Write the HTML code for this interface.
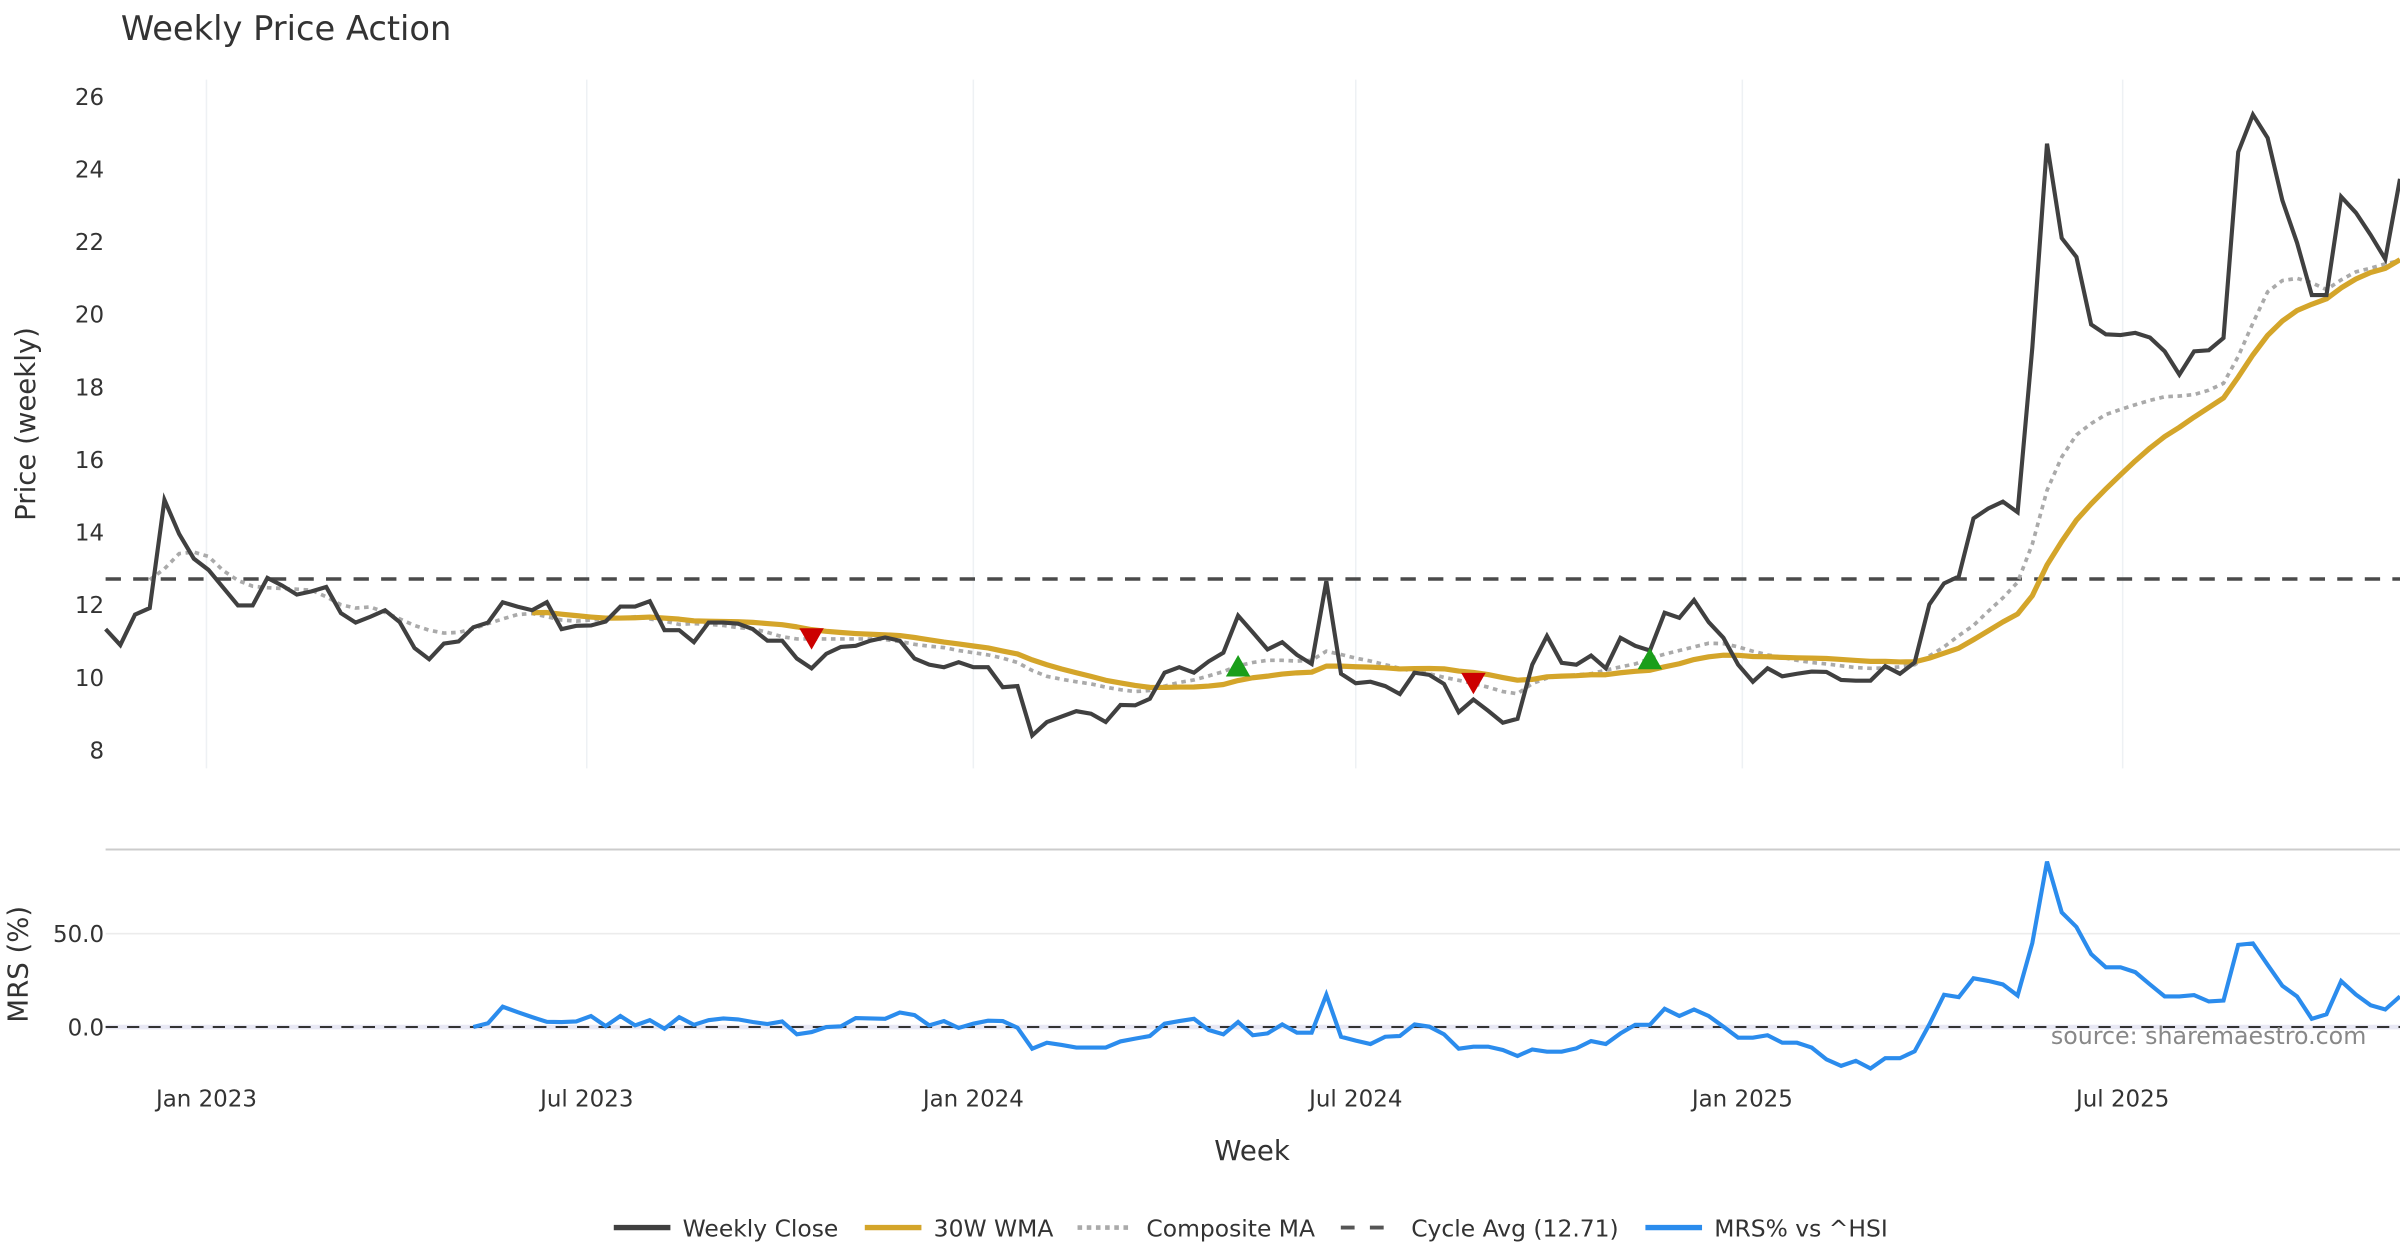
<!DOCTYPE html>
<html><head><meta charset="utf-8"><title>Weekly Price Action</title>
<style>
html,body{margin:0;padding:0;background:#fff;}
svg{display:block;font-family:"DejaVu Sans","Liberation Sans",sans-serif;}
</style></head>
<body>
<svg id="chart" width="2400" height="1260" viewBox="0 0 1568 823.2" xmlns="http://www.w3.org/2000/svg">
<rect width="1568" height="823.2" fill="#fff"/>
<text x="79" y="26" font-size="22" fill="#333">Weekly Price Action</text>
<g id="grid"></g>
<g id="series"></g>
<g id="axes"></g>
<text transform="translate(23,277) rotate(-90)" text-anchor="middle" font-size="18" fill="#333">Price (weekly)</text>
<text transform="translate(18,630) rotate(-90)" text-anchor="middle" font-size="18" fill="#333">MRS (%)</text>
<text x="818" y="758" text-anchor="middle" font-size="18" fill="#333">Week</text>
<text x="1546" y="682" text-anchor="end" font-size="15.5" fill="#888">source: sharemaestro.com</text>
<g font-size="15.3" fill="#333">
  <g><line x1="401" y1="802" x2="438" y2="802" stroke="#404040" stroke-width="3.5"/><text x="446" y="808">Weekly Close</text></g>
  <g><line x1="565" y1="802" x2="602" y2="802" stroke="#d4a52a" stroke-width="3.5"/><text x="610" y="808">30W WMA</text></g>
  <g><line x1="704" y1="802" x2="740" y2="802" stroke="#aaa" stroke-width="3" stroke-dasharray="3,3"/><text x="749" y="808">Composite MA</text></g>
  <g><line x1="876" y1="802" x2="913" y2="802" stroke="#555" stroke-width="2.5" stroke-dasharray="9,10"/><text x="922" y="808">Cycle Avg (12.71)</text></g>
  <g><line x1="1075" y1="802" x2="1112" y2="802" stroke="#2b8ced" stroke-width="3.5"/><text x="1120" y="808">MRS% vs ^HSI</text></g>
</g>
</svg>
<script>
const closeVals = [11.33,10.89,11.73,11.91,14.89,13.95,13.27,12.96,12.47,11.98,11.98,12.74,12.53,12.28,12.37,12.49,11.77,11.51,11.67,11.85,11.52,10.81,10.5,10.93,10.99,11.38,11.51,12.07,11.95,11.85,12.07,11.33,11.42,11.43,11.54,11.95,11.95,12.1,11.3,11.3,10.97,11.51,11.51,11.48,11.33,11.01,11.01,10.52,10.25,10.65,10.84,10.87,11.01,11.1,11.01,10.52,10.35,10.28,10.42,10.28,10.28,9.73,9.76,8.4,8.77,8.92,9.07,9.0,8.77,9.24,9.23,9.41,10.13,10.28,10.13,10.44,10.68,11.7,11.24,10.77,10.97,10.62,10.37,12.65,10.1,9.84,9.88,9.76,9.54,10.13,10.07,9.82,9.04,9.39,9.08,8.75,8.86,10.35,11.14,10.4,10.35,10.6,10.25,11.09,10.87,10.74,11.78,11.64,12.13,11.52,11.09,10.35,9.88,10.25,10.03,10.1,10.16,10.15,9.93,9.91,9.91,10.31,10.1,10.41,12.01,12.59,12.78,14.38,14.65,14.84,14.55,19.08,24.7,22.1,21.58,19.72,19.45,19.43,19.49,19.36,18.98,18.34,18.98,19.01,19.35,24.47,25.5,24.86,23.14,21.97,20.53,20.53,23.24,22.8,22.19,21.52,23.73];
const compositeVals = [null,null,null,12.69,12.99,13.41,13.45,13.33,12.94,12.67,12.51,12.47,12.45,12.43,12.4,12.22,12.0,11.91,11.94,11.79,11.61,11.43,11.3,11.22,11.24,11.34,11.48,11.61,11.73,11.76,11.67,11.58,11.55,11.58,11.61,11.63,11.67,11.61,11.55,11.46,11.48,11.46,11.43,11.37,11.34,11.24,11.12,11.06,11.06,11.06,11.06,11.06,11.06,11.04,10.99,10.91,10.86,10.82,10.74,10.68,10.62,10.53,10.41,10.19,10.03,9.95,9.88,9.82,9.73,9.66,9.61,9.64,9.76,9.86,9.93,10.04,10.16,10.32,10.41,10.47,10.47,10.45,10.47,10.72,10.63,10.53,10.45,10.35,10.25,10.16,10.1,10.0,9.92,9.83,9.73,9.61,9.55,9.83,9.98,10.04,10.07,10.1,10.2,10.29,10.37,10.52,10.64,10.74,10.84,10.94,10.93,10.84,10.72,10.62,10.55,10.47,10.41,10.37,10.32,10.27,10.25,10.26,10.29,10.35,10.59,10.84,11.15,11.43,11.82,12.19,12.62,13.67,15.15,16.07,16.68,16.99,17.24,17.38,17.51,17.63,17.73,17.75,17.79,17.91,18.1,18.84,19.76,20.62,20.93,20.99,20.87,20.68,20.95,21.17,21.27,21.39,21.48];
const mrsVals = [null,null,null,null,null,null,null,null,null,null,null,null,null,null,null,null,null,null,null,null,null,null,null,null,null,0.0,2.0,10.9,8.0,5.3,2.8,2.7,3.0,5.9,0.5,5.9,0.9,3.7,-0.9,5.3,1.2,3.7,4.6,4.1,2.7,1.6,3.0,-3.9,-2.7,0,0.4,4.8,4.6,4.4,7.8,6.4,0.9,3.2,-0.5,1.8,3.4,3.2,-0.4,-11.6,-8.4,-9.6,-11.0,-11.0,-11.0,-7.7,-6.2,-4.8,1.8,3.2,4.4,-1.6,-3.9,2.7,-4.4,-3.4,1.4,-3.0,-3.0,17.3,-5.2,-7.3,-9.1,-5.2,-4.8,1.4,0.2,-3.9,-11.6,-10.5,-10.5,-12.3,-15.5,-12.0,-13.2,-13.2,-11.4,-7.5,-9.1,-3.4,1.2,1.2,9.8,5.9,9.4,5.9,0.2,-5.7,-5.7,-4.4,-8.4,-8.4,-11.0,-17.3,-20.8,-18.1,-22.2,-16.7,-16.7,-13.0,1.4,17.3,16.0,26.1,24.7,22.8,16.9,45.0,88.6,61.4,53.6,39.1,32.0,32.0,29.4,22.8,16.4,16.4,17.1,13.7,14.2,44.0,44.8,33.3,22.1,16.4,4.4,6.8,24.6,17.4,11.7,9.4,16.4];
const signalIdx = [48,77,93,105];
const signalType = ['sell','buy','sell','buy'];
const cycleAvg = 12.71;
const wmaPeriod = 30;
const priceTicks = [8,10,12,14,16,18,20,22,24,26];
const mrsTicks = [0,50];
const mrsTickLabels = ['0.0','50.0'];
const monthTicks = ['2023-01-01','2023-07-01','2024-01-01','2024-07-01','2025-01-01','2025-07-01'];
const monthLabels = ['Jan 2023','Jul 2023','Jan 2024','Jul 2024','Jan 2025','Jul 2025'];
const startDate = '2022-11-14';

const NS='http://www.w3.org/2000/svg';
const X0=69, X1=1568;
const n=closeVals.length;
function xIdx(i){return X0+i*(X1-X0)/(n-1);}
function xDate(d){const days=(new Date(d)-new Date(startDate))/86400000;return xIdx(days/7);}
function yP(v){return 490-(v-8)*23.72;}
function yM(v){return 671-v*1.22;}
function mk(tag,attrs,parent){const e=document.createElementNS(NS,tag);for(const k in attrs)e.setAttribute(k,attrs[k]);parent.appendChild(e);return e;}
function pathFrom(vals,yf){let d='',pen=false;vals.forEach((v,i)=>{if(v===null||v===undefined){pen=false;return;}d+=(pen?'L':'M')+xIdx(i).toFixed(2)+','+yf(v).toFixed(2);pen=true;});return d;}

const grid=document.getElementById('grid'), series=document.getElementById('series'), axes=document.getElementById('axes');

monthTicks.forEach((d,k)=>{
  const x=xDate(d);
  const g=mk('line',{x1:x,y1:52,x2:x,y2:502,stroke:'#eef1f4','stroke-width':1},grid);
  
  
  const t=mk('text',{x:x,y:723,'text-anchor':'middle','font-size':15,fill:'#333'},axes);
  t.textContent=monthLabels[k];
  
  
});
priceTicks.forEach(v=>{
  const t=mk('text',{x:68,y:yP(v)+5.5,'text-anchor':'end','font-size':15,fill:'#333'},axes);
  t.textContent=String(v);
  
  
});
const sep=mk('line',{x1:X0,y1:555,x2:X1,y2:555,stroke:'#cccccc','stroke-width':1.3},grid);


mrsTicks.forEach((v,k)=>{
  if(v!==0){
    const g=mk('line',{x1:X0,y1:yM(v),x2:X1,y2:yM(v),stroke:'#ececec','stroke-width':1},grid);
    
    
  }
  const t=mk('text',{x:68,y:yM(v)+5.5,'text-anchor':'end','font-size':15,fill:'#333'},axes);
  t.textContent=mrsTickLabels[k];
  
  
});
const band=mk('line',{x1:X0,y1:yM(0),x2:X1,y2:yM(0),stroke:'#e8e8f4','stroke-width':3},grid);


const zl=mk('line',{x1:X0,y1:yM(0),x2:X1,y2:yM(0),stroke:'#333','stroke-width':1.3,'stroke-dasharray':'8,6'},grid);



const ca=mk('line',{x1:X0,y1:yP(cycleAvg),x2:X1,y2:yP(cycleAvg),stroke:'#4a4a4a','stroke-width':2.3,'stroke-dasharray':'10,8'},series);



const wmaVals=closeVals.map((v,i)=>{
  if(i<wmaPeriod-1)return null;
  let s=0,w=0;
  for(let k=0;k<wmaPeriod;k++){s+=closeVals[i-wmaPeriod+1+k]*(k+1);w+=k+1;}
  return s/w;
});

const comp=mk('path',{d:pathFrom(compositeVals,yP),fill:'none',stroke:'#aaaaaa','stroke-width':2.4,'stroke-dasharray':'3,3'},series);


const wma=mk('path',{d:pathFrom(wmaVals,yP),fill:'none',stroke:'#d4a52a','stroke-width':3.4,'stroke-linejoin':'round'},series);


const cl=mk('path',{d:pathFrom(closeVals,yP),fill:'none',stroke:'#404040','stroke-width':2.7,'stroke-linejoin':'miter'},series);



signalIdx.forEach((idx,k)=>{
  const x=xIdx(idx), y=yP(compositeVals[idx]);
  let pts;
  if(signalType[k]==='sell') pts=`${x-8},${y-7} ${x+8},${y-7} ${x},${y+7}`;
  else pts=`${x-8},${y+7} ${x+8},${y+7} ${x},${y-7}`;
  const p=mk('polygon',{points:pts,fill:signalType[k]==='sell'?'#cc0000':'#1a9e1a'},series);
  
  
});

const mrs=mk('path',{d:pathFrom(mrsVals,yM),fill:'none',stroke:'#2b8ced','stroke-width':2.7,'stroke-linejoin':'miter'},series);


</script>
</body></html>
